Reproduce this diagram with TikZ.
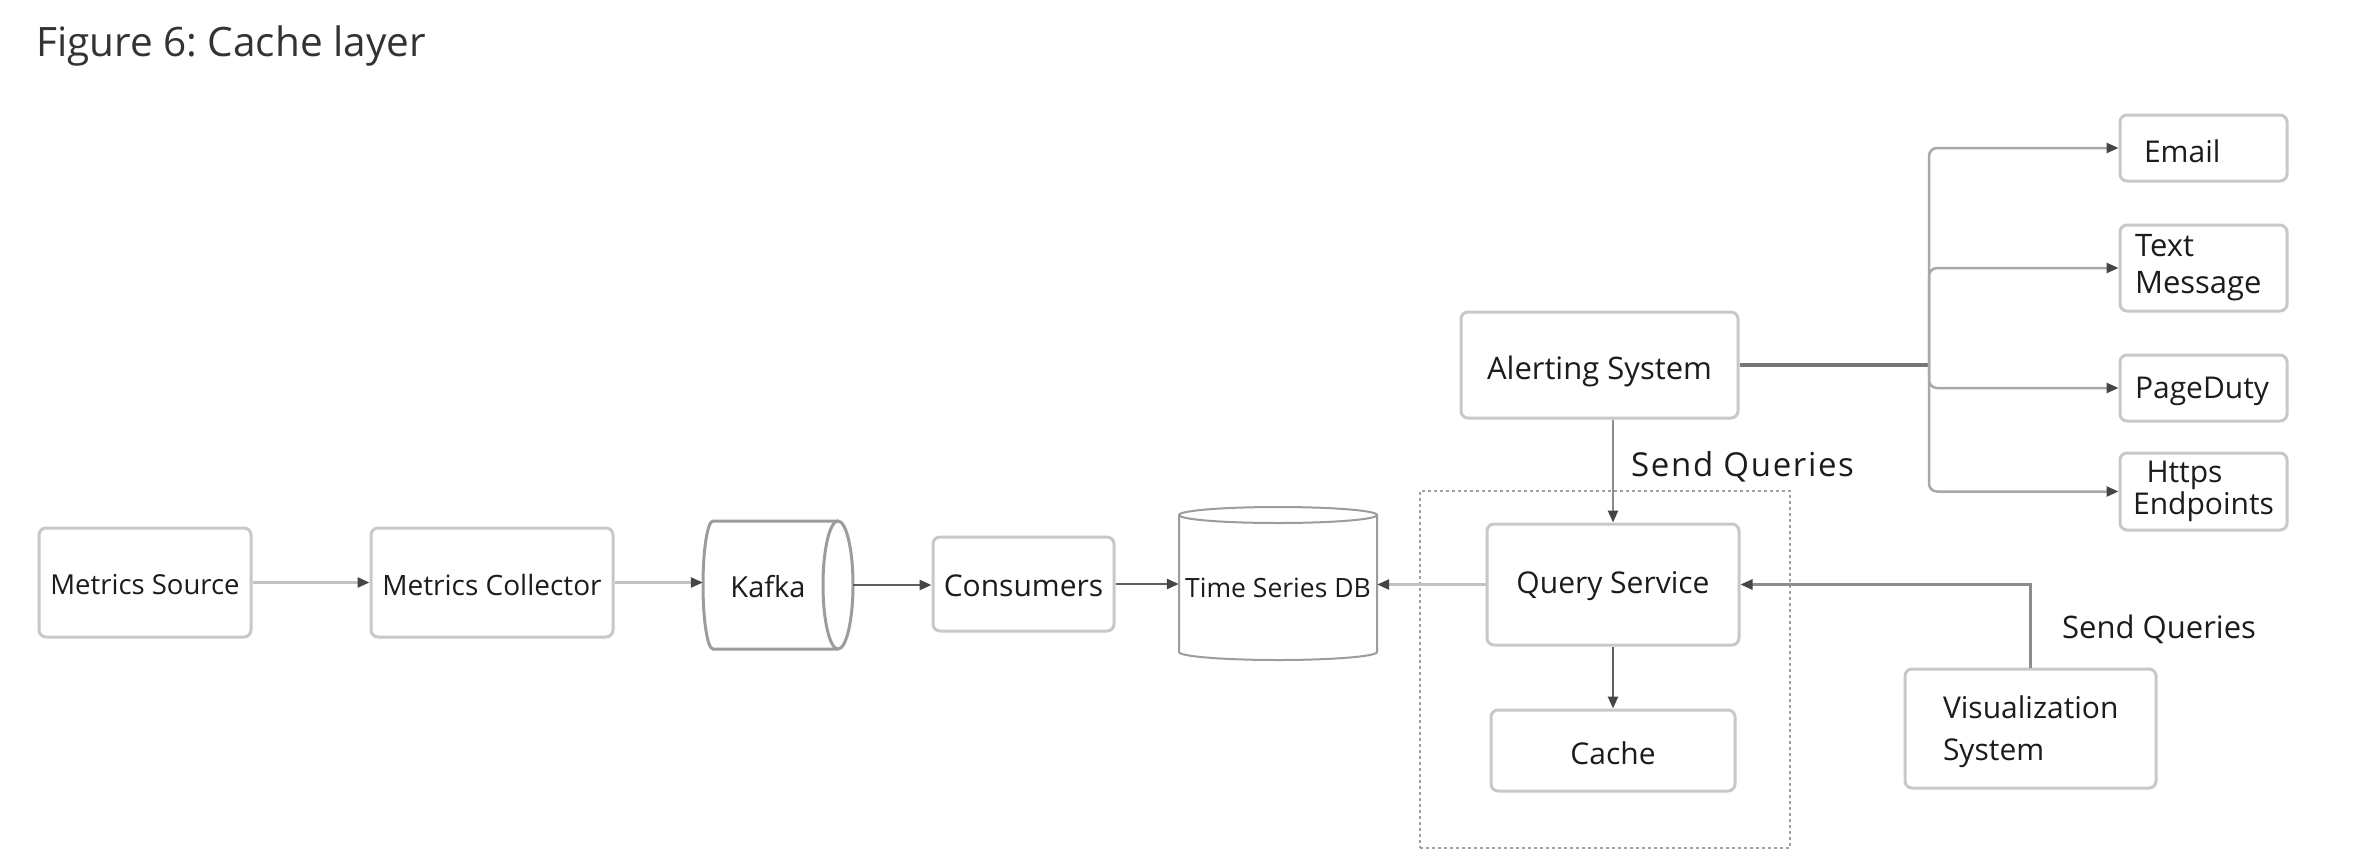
\documentclass[tikz,border=0pt]{standalone}
\usepackage{fontspec}
\setmainfont{Open Sans}
\usetikzlibrary{arrows.meta}
\frenchspacing
\newcommand\lowertxt[2]{\raisebox{-#1}[\height][\depth]{#2}}
\definecolor{boxgray}{HTML}{C8C8C8}
\definecolor{lightline}{HTML}{C2C2C2}
\definecolor{midline}{HTML}{8C8C8C}
\definecolor{darkline}{HTML}{5E5E5E}
\definecolor{branchline}{HTML}{A8A8A8}
\definecolor{headcol}{HTML}{454545}
\definecolor{txt}{HTML}{1C1C1C}
\definecolor{titlecol}{HTML}{333333}
\definecolor{cylgray}{HTML}{9C9C9C}
\definecolor{groupgray}{HTML}{A0A0A0}
\begin{document}
\begin{tikzpicture}[x=1pt,y=-1pt,
  box/.style={draw=boxgray, line width=3pt, rounded corners=7pt, fill=white, text=txt,
    inner sep=0pt, align=center, font=\fontsize{30}{38}\selectfont},
  plain/.style={text=txt, inner sep=0pt, align=center},
  cyl/.style={draw=cylgray, line width=3pt},
  cylthin/.style={draw=cylgray, line width=2pt},
  group/.style={draw=groupgray, line width=2.5pt, dash pattern=on 3pt off 3pt, inner sep=0pt},
  tip/.style={-{Triangle[length=12pt,width=10pt,color=headcol]}},
  arrlight/.style={draw=lightline, line width=2.5pt, tip},
  arrmid/.style={draw=midline, line width=2.5pt, tip},
  arrdark/.style={draw=darkline, line width=2.5pt, tip},
  arrbranch/.style={draw=branchline, line width=2.5pt, rounded corners=8pt, tip},
  trunk/.style={draw=darkline!85, line width=3.5pt},
  lbl/.style={text=txt, inner sep=0pt, anchor=west}
]
\useasboundingbox[fill=white] (0,0) rectangle (2367,865);

\node[anchor=base west, text=titlecol, inner sep=0pt, font=\fontsize{40.5}{48}\selectfont] (title) at (36,56) {Figure 6: Cache layer};

% cache layer group
\node[group, minimum width=370pt, minimum height=357pt] (grp) at (1605,669.5) {};

% boxes
\node[box, minimum width=212pt, minimum height=109pt, font=\fontsize{27.5}{33}\selectfont] (ms) at (145,582.5) {\lowertxt{2pt}{Metrics Source}};
\node[box, minimum width=242pt, minimum height=109pt, font=\fontsize{28}{33}\selectfont] (mc) at (492,582.5) {\lowertxt{2pt}{Metrics Collector}};

% Kafka cylinder
\draw[cyl] (838,521) -- (713,521) arc[start angle=270, end angle=90, x radius=10, y radius=64] -- (838,649);
\draw[cyl] (838,585) ellipse [x radius=15, y radius=64];
\node[plain, minimum width=150pt, minimum height=128pt, font=\fontsize{29}{35}\selectfont] (kafka) at (778,585) {\lowertxt{2pt}{Kafka}\hspace*{20pt}};

\node[box, minimum width=181pt, minimum height=94pt] (cons) at (1023.5,584) {\lowertxt{2pt}{Consumers}};

% Time Series DB cylinder
\draw[cylthin] (1179,515) -- (1179,652) arc[start angle=180, end angle=0, x radius=99, y radius=8] -- (1377,515);
\draw[cylthin] (1278,515) ellipse [x radius=99, y radius=8];
\node[plain, minimum width=198pt, minimum height=140pt, font=\fontsize{26.5}{32}\selectfont] (tsdb) at (1278,587) {\lowertxt{1pt}{Time Series DB}};

\node[box, minimum width=252pt, minimum height=121pt] (qs) at (1613,584.5) {\lowertxt{2pt}{Query Service}};
\node[box, minimum width=244pt, minimum height=81pt] (cache) at (1613,750.5) {\lowertxt{3pt}{Cache}};
\node[box, minimum width=277pt, minimum height=106pt, font=\fontsize{31}{38}\selectfont] (alert) at (1599.5,365) {\lowertxt{6pt}{Alerting System}};
\node[box, minimum width=251pt, minimum height=119pt, text width=175pt, align=left, font=\fontsize{30}{42}\selectfont] (vis) at (2030.5,728.5) {\lowertxt{3pt}{Visualization}\\\lowertxt{3pt}{System}};

\node[box, minimum width=167pt, minimum height=66pt, text width=119pt, align=left] (email) at (2203.5,148) {\lowertxt{3pt}{Email}};
\node[box, minimum width=167pt, minimum height=86pt, text width=137pt, align=left, font=\fontsize{31}{37}\selectfont] (textmsg) at (2203.5,268) {Text\\Message};
\node[box, minimum width=167pt, minimum height=66pt, text width=137pt, align=left] (page) at (2203.5,388) {\lowertxt{3pt}{PageDuty}};
\node[box, minimum width=167pt, minimum height=77pt, font=\fontsize{30}{32}\selectfont] (https) at (2203.5,491.5) {Https\hspace*{38pt}\\Endpoints};

% labels
\node[lbl, font=\fontsize{33}{40}\selectfont\addfontfeature{LetterSpace=5}] (sq1) at (1631,467) {Send Queries};
\node[lbl, font=\fontsize{31}{37}\selectfont] (sq2) at (2062,629) {Send Queries};

% connectors
\draw[arrlight] (ms.east) -- (ms.east -| mc.west);
\draw[arrlight] (mc.east) -- (mc.east -| kafka.west);
\draw[arrdark] (kafka.east) -- (kafka.east -| cons.west);
\draw[arrdark] (cons.east) -- (cons.east -| tsdb.west);
\draw[arrlight] (qs.west) -- (qs.west -| tsdb.east);
\draw[arrmid] (qs.north |- alert.south) -- (qs.north);
\draw[arrdark] (qs.south) -- (cache.north);
\draw[arrmid] (vis.north) |- (qs.east);

\coordinate (br) at (1929,365);
\draw[trunk] (alert.east) -- (br);
\foreach \t in {email,textmsg,page,https}
  \draw[arrbranch] (br) |- (\t.west);
\end{tikzpicture}
\end{document}
